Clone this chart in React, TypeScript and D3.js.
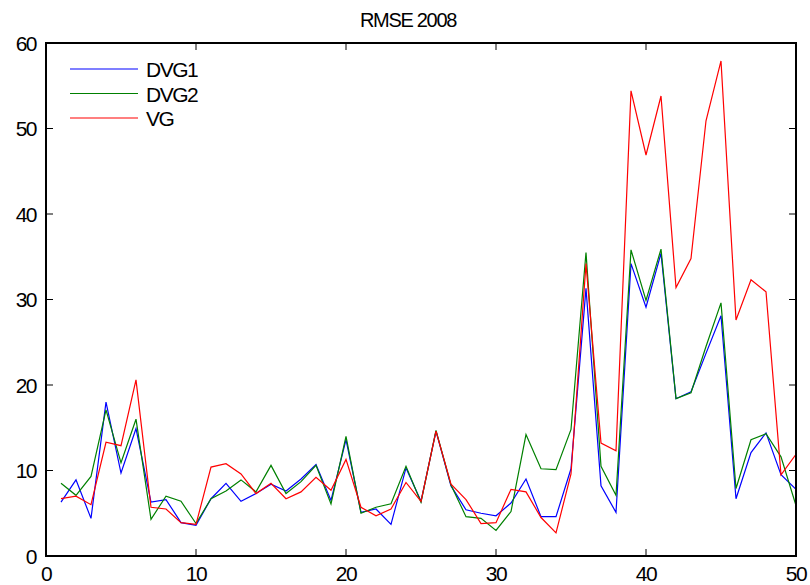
import { line, scaleLinear } from 'd3';

const xs = Array.from({ length: 50 }, (_, i) => i + 1);

const dvg1 = [
  6.3, 8.9, 4.4, 18.0, 9.7, 14.9, 6.3, 6.6, 3.9, 3.6,
  6.7, 8.5, 6.4, 7.3, 8.4, 7.6, 9.0, 10.7, 6.5, 13.6,
  5.1, 5.5, 3.7, 10.3, 6.4, 14.6, 8.2, 5.4, 5.0, 4.7,
  6.2, 9.0, 4.6, 4.6, 10.2, 31.3, 8.2, 5.1, 34.2, 29.1,
  35.4, 18.4, 19.2, 23.7, 28.1, 6.7, 12.1, 14.4, 9.5, 7.8,
];

const dvg2 = [
  8.5, 7.1, 9.3, 17.1, 10.9, 16.0, 4.3, 7.0, 6.4, 3.8,
  6.7, 7.6, 8.9, 7.5, 10.6, 7.3, 8.7, 10.6, 6.1, 14.0,
  5.0, 5.7, 6.1, 10.5, 6.3, 14.7, 8.3, 4.6, 4.4, 3.0,
  5.2, 14.2, 10.2, 10.1, 14.8, 35.5, 10.5, 7.1, 35.8, 29.9,
  35.9, 18.4, 19.1, 24.5, 29.6, 7.9, 13.6, 14.3, 11.6, 5.9,
];

const vg = [
  6.7, 7.0, 6.0, 13.3, 12.9, 20.6, 5.7, 5.5, 3.9, 3.7,
  10.4, 10.8, 9.6, 7.3, 8.5, 6.7, 7.5, 9.2, 7.7, 11.3,
  5.7, 4.7, 5.5, 8.6, 6.4, 14.6, 8.4, 6.6, 3.8, 3.9,
  7.8, 7.5, 4.5, 2.7, 9.6, 34.2, 13.2, 12.3, 54.4, 46.9,
  53.8, 31.4, 34.8, 50.9, 57.9, 27.6, 32.3, 30.9, 9.5, 11.9,
];

const series = [
  { name: 'DVG1', values: dvg1, color: '#0000ff' },
  { name: 'DVG2', values: dvg2, color: '#008000' },
  { name: 'VG', values: vg, color: '#ff0000' },
];

const xTicks = [0, 10, 20, 30, 40, 50];
const yTicks = [0, 10, 20, 30, 40, 50, 60];

const width = 810;
const height = 585;
const plot = { left: 46, right: 796, top: 43, bottom: 556 };
const font = '"Liberation Sans", Arial, sans-serif';

export default function App() {
  const x = scaleLinear().domain([0, 50]).range([plot.left, plot.right]);
  const y = scaleLinear().domain([0, 60]).range([plot.bottom, plot.top]);
  const path = line<number>()
    .x((_, i) => x(xs[i]))
    .y(d => y(d));

  const tick = 7;

  return (
    <svg
      width={width}
      height={height}
      viewBox={`0 0 ${width} ${height}`}
      style={{ position: 'absolute', left: 0, top: 0, background: '#fff' }}
      fontFamily={font}
    >
      <text x={408} y={27} textAnchor="middle" fontSize={20} letterSpacing={-1.3} fill="#000">
        RMSE 2008
      </text>

      <g clipPath="url(#plot-clip)">
        {series.map(s => (
          <path key={s.name} d={path(s.values) ?? ''} fill="none" stroke={s.color} strokeWidth={1.2} />
        ))}
      </g>
      <defs>
        <clipPath id="plot-clip">
          <rect x={plot.left} y={plot.top} width={plot.right - plot.left} height={plot.bottom - plot.top} />
        </clipPath>
      </defs>

      {xTicks.map(t => (
        <g key={`x${t}`}>
          <line x1={x(t)} x2={x(t)} y1={plot.bottom} y2={plot.bottom - tick} stroke="#000" strokeWidth={1} />
          <line x1={x(t)} x2={x(t)} y1={plot.top} y2={plot.top + tick} stroke="#000" strokeWidth={1} />
          <text x={x(t)} y={581} textAnchor="middle" fontSize={21} letterSpacing={-1.5} fill="#000">
            {t}
          </text>
        </g>
      ))}

      {yTicks.map(t => (
        <g key={`y${t}`}>
          <line x1={plot.left} x2={plot.left + tick} y1={y(t)} y2={y(t)} stroke="#000" strokeWidth={1} />
          <line x1={plot.right} x2={plot.right - tick} y1={y(t)} y2={y(t)} stroke="#000" strokeWidth={1} />
          <text x={36} y={y(t) + 7.5} textAnchor="end" fontSize={21} letterSpacing={-1.5} fill="#000">
            {t}
          </text>
        </g>
      ))}

      <rect
        x={plot.left}
        y={plot.top}
        width={plot.right - plot.left}
        height={plot.bottom - plot.top}
        fill="none"
        stroke="#000"
        strokeWidth={2}
      />

      {series.map((s, i) => (
        <g key={`legend-${s.name}`} transform={`translate(70, ${69 + i * 24.5})`}>
          <line x1={0} x2={68} y1={0} y2={0} stroke={s.color} strokeWidth={1.2} />
          <text x={76} y={8} fontSize={21} letterSpacing={-1.5} fill="#000">
            {s.name}
          </text>
        </g>
      ))}
    </svg>
  );
}
